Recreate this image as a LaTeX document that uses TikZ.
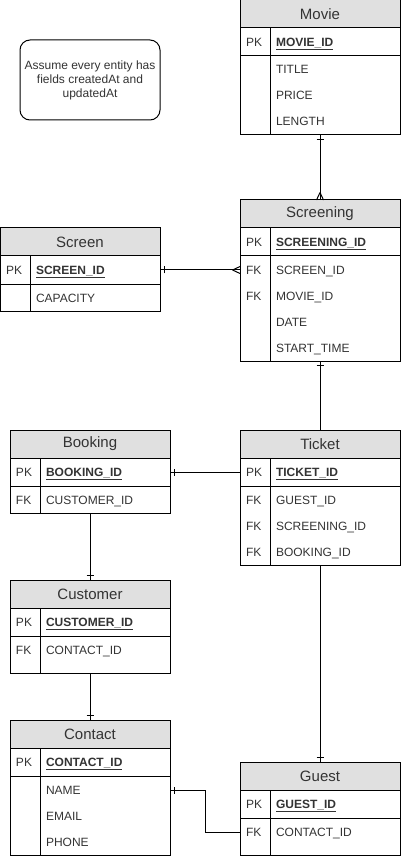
\documentclass[tikz,border=0pt]{standalone}
\usepackage{fontspec}
\setmainfont{Liberation Sans}
\usepackage{xcolor}
\usepackage{tikz}
\usetikzlibrary{positioning}
\usetikzlibrary{decorations.markings}
\definecolor{hdrgray}{HTML}{E0E0E0}
\definecolor{txtgray}{HTML}{333333}
\newcommand{\rowstrut}{\rule[-8.5pt]{0pt}{26pt}}
\tikzset{
  tbl/.style={draw, line width=1pt, outer sep=0pt, inner sep=0pt, text=txtgray},
  hdr/.style={tbl, fill=hdrgray, anchor=north west, minimum width=160pt,
    minimum height=28pt, font=\fontsize{15}{18}\selectfont},
  cell/.style={tbl, inner xsep=6pt, inner ysep=0.5pt, align=left,
    font=\fontsize{12}{26}\selectfont,
    execute at begin node=\rowstrut, execute at end node=\rowstrut},
  keycol/.style={cell, text width=18pt},
  namecol/.style={cell, text width=118pt},
  pkrow/.style={minimum height=28pt},
  tallrow/.style={text depth=18.5pt},
  note/.style={draw, line width=1pt, rounded corners=10pt, minimum width=140pt,
    minimum height=80pt, align=center, text=txtgray, font=\fontsize{12}{14}\selectfont},
  rel/.style={draw, line width=1pt},
  onestart/.style={postaction={decorate, decoration={markings,
    mark=at position 0 with {\draw[line width=1pt] (4.5pt,-3.5pt) -- (4.5pt,3.5pt);}}}},
  oneend/.style={postaction={decorate, decoration={markings,
    mark=at position 1 with {\draw[line width=1pt] (-4.5pt,-3.5pt) -- (-4.5pt,3.5pt);}}}},
  manyend/.style={postaction={decorate, decoration={markings,
    mark=at position 1 with {\draw[line width=1pt] (-7.5pt,0pt) -- (0pt,3.5pt) (-7.5pt,0pt) -- (0pt,-3.5pt);}}}}
}

\begin{document}
\begin{tikzpicture}[x=1pt, y=-1pt]
    \useasboundingbox (0,0) rectangle (401,858);
    % Note
    \node[note] (note) at (90,80) {Assume every entity has\\fields createdAt and\\updatedAt};
    % Movie
    \node[hdr] (movie) at (240,0) {Movie};
    \node[keycol, pkrow, below right=0pt of movie.south west] (moviepk) {PK};
    \node[namecol, pkrow, right=0pt of moviepk] (movieid) {\underline{\textbf{MOVIE\_ID}}};
    \node[keycol, below=0pt of moviepk] (moviekeys) {~\\~\\~};
    \node[namecol, right=0pt of moviekeys] (moviecols) {TITLE\\PRICE\\LENGTH};
    % Screening
    \node[hdr] (screening) at (240,200) {Screening};
    \node[keycol, pkrow, below right=0pt of screening.south west] (screeningpk) {PK};
    \node[namecol, pkrow, right=0pt of screeningpk] (screeningid) {\underline{\textbf{SCREENING\_ID}}};
    \node[keycol, below=0pt of screeningpk] (screeningkeys) {FK\\FK\\~\\~};
    \node[namecol, right=0pt of screeningkeys] (screeningcols) {SCREEN\_ID\\MOVIE\_ID\\DATE\\START\_TIME};
    % Screen
    \node[hdr] (screen) at (0,228) {Screen};
    \node[keycol, pkrow, below right=0pt of screen.south west] (screenpk) {PK};
    \node[namecol, pkrow, right=0pt of screenpk] (screenid) {\underline{\textbf{SCREEN\_ID}}};
    \node[keycol, below=0pt of screenpk] (screenkeys) {~};
    \node[namecol, right=0pt of screenkeys] (screencols) {CAPACITY};
    % Booking
    \node[hdr] (booking) at (10,430) {Booking};
    \node[keycol, pkrow, below right=0pt of booking.south west] (bookingpk) {PK};
    \node[namecol, pkrow, right=0pt of bookingpk] (bookingid) {\underline{\textbf{BOOKING\_ID}}};
    \node[keycol, below=0pt of bookingpk] (bookingkeys) {FK};
    \node[namecol, right=0pt of bookingkeys] (bookingcols) {CUSTOMER\_ID};
    % Ticket
    \node[hdr] (ticket) at (240,430) {Ticket};
    \node[keycol, pkrow, below right=0pt of ticket.south west] (ticketpk) {PK};
    \node[namecol, pkrow, right=0pt of ticketpk] (ticketid) {\underline{\textbf{TICKET\_ID}}};
    \node[keycol, below=0pt of ticketpk] (ticketkeys) {FK\\FK\\FK};
    \node[namecol, right=0pt of ticketkeys] (ticketcols) {GUEST\_ID\\SCREENING\_ID\\BOOKING\_ID};
    % Customer
    \node[hdr] (customer) at (10,580) {Customer};
    \node[keycol, pkrow, below right=0pt of customer.south west] (customerpk) {PK};
    \node[namecol, pkrow, right=0pt of customerpk] (customerid) {\underline{\textbf{CUSTOMER\_ID}}};
    \node[keycol, tallrow, below=0pt of customerpk] (customerkeys) {FK};
    \node[namecol, tallrow, right=0pt of customerkeys] (customercols) {CONTACT\_ID};
    % Contact
    \node[hdr] (contact) at (10,720) {Contact};
    \node[keycol, pkrow, below right=0pt of contact.south west] (contactpk) {PK};
    \node[namecol, pkrow, right=0pt of contactpk] (contactid) {\underline{\textbf{CONTACT\_ID}}};
    \node[keycol, below=0pt of contactpk] (contactkeys) {~\\~\\~};
    \node[namecol, right=0pt of contactkeys] (contactcols) {NAME\\EMAIL\\PHONE};
    % Guest
    \node[hdr] (guest) at (240,762) {Guest};
    \node[keycol, pkrow, below right=0pt of guest.south west] (guestpk) {PK};
    \node[namecol, pkrow, right=0pt of guestpk] (guestid) {\underline{\textbf{GUEST\_ID}}};
    \node[keycol, tallrow, below=0pt of guestpk] (guestkeys) {FK};
    \node[namecol, tallrow, right=0pt of guestkeys] (guestcols) {CONTACT\_ID};
    % Relations
    \path[rel, onestart, manyend] (movie |- moviecols.south) -- (screening.north);
    \path[rel, onestart, manyend] (screenid.east) -- (screenid.east -| screeningkeys.west);
    \path[rel, onestart] (bookingid.east) -- (ticketpk.west);
    \path[rel, oneend] (booking |- bookingcols.south) -- (customer.north);
    \path[rel, oneend] (customer |- customercols.south) -- (contact.north);
    \path[rel, onestart] (screening |- screeningcols.south) -- (ticket.north);
    \path[rel, oneend] (ticket |- ticketcols.south) -- (guest.north);
    \path[rel, onestart] ([yshift=-14pt]contactcols.north east) -- ++(35,0)
        |- ([yshift=-14pt]guestkeys.north west);
\end{tikzpicture}
\end{document}
